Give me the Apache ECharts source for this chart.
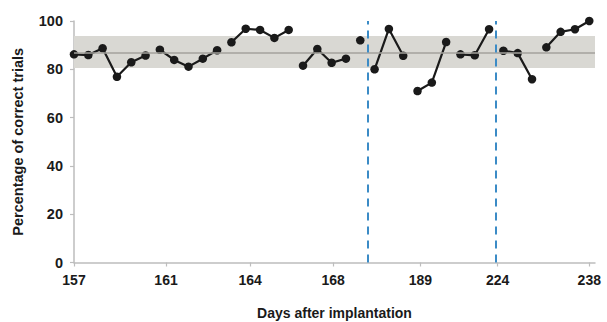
<!DOCTYPE html>
<html>
<head>
<meta charset="utf-8">
<script src="https://cdn.jsdelivr.net/npm/echarts@6/dist/echarts.min.js"></script>
<style>
  html, body { margin: 0; padding: 0; background: #fff; }
  #chart { width: 607px; height: 322px; }
</style>
</head>
<body>
<div id="chart"></div>
<script>
// percentage of correct trials, one value per session (in order)
var correct = [
  86.2, 85.9, 88.7, 76.9, 82.9, 85.7,
  88.1, 83.9, 81.1, 84.4, 87.9,
  91.2, 96.8, 96.3, 93.0, 96.3,
  81.5, 88.4, 82.7, 84.4,
  92.0,
  80.0, 96.7, 85.6,
  71.0, 74.5, 91.3,
  86.2, 85.8, 96.6,
  87.7, 86.7, 75.9,
  89.1, 95.5, 96.6, 100
];
// first session index of each connected run
var runStarts = [0, 6, 11, 16, 20, 21, 24, 27, 30, 33];
// day labels shown under the axis and the session position they sit at
var dayLabels = ['157', '161', '164', '168', '189', '224', '238'];
var dayPos = [0, 6.43, 12.3, 18.1, 24.2, 29.6, 36];
// reference band (mean and range) and phase boundaries
var bandLow = 80.5, bandHigh = 93.8, bandMean = 86.9;
var phaseBreaks = [20.5, 29.5];

(function() {
  var ink = '#1a1a1a';
  var axisGrey = '#bdbdbd';
  var font = 'Liberation Sans, Arial, sans-serif';

  var chart = echarts.init(document.getElementById('chart'), null, { renderer: 'svg' });

  var series = [];
  // background band + mean line + phase lines
  series.push({
    type: 'line',
    data: [],
    silent: true,
    z: 1,
    markArea: {
      silent: true,
      itemStyle: { color: '#d9d8d3' },
      data: [[{ yAxis: bandLow }, { yAxis: bandHigh }]]
    },
    markLine: {
      silent: true,
      symbol: 'none',
      label: { show: false },
      data: [
        { yAxis: bandMean, lineStyle: { color: '#a3a29d', width: 1.5, type: 'solid' } }
      ].concat(phaseBreaks.map(function(x) {
        return { xAxis: x, lineStyle: { color: '#3b8bc6', width: 2, type: [8, 6] } };
      }))
    }
  });

  runStarts.forEach(function(start, k) {
    var end = k + 1 < runStarts.length ? runStarts[k + 1] : correct.length;
    var pts = [];
    for (var i = start; i < end; i++) pts.push([i, correct[i]]);
    series.push({
      type: 'line',
      data: pts,
      z: 3,
      symbol: 'circle',
      symbolSize: 8.5,
      showSymbol: true,
      lineStyle: { color: ink, width: 2.2 },
      itemStyle: { color: ink },
      silent: true
    });
  });

  chart.setOption({
    animation: false,
    grid: { left: 74, right: 12, top: 21, bottom: 59.5, outerBoundsMode: 'none', containLabel: false },
    xAxis: {
      type: 'value',
      min: 0,
      max: 36.4,
      name: 'Days after implantation',
      nameLocation: 'middle',
      nameGap: 43,
      nameTextStyle: { color: ink, fontSize: 14, fontWeight: 'bold', fontFamily: font },
      axisLine: { show: true, onZero: false, lineStyle: { color: axisGrey, width: 1.5 } },
      axisTick: { show: true, length: 4, customValues: dayPos, lineStyle: { color: axisGrey, width: 1.2 } },
      axisLabel: {
        customValues: dayPos,
        color: ink, fontSize: 14, fontWeight: 'bold', fontFamily: font, margin: 10,
        formatter: function(v) {
          var i = dayPos.indexOf(v);
          return i >= 0 ? dayLabels[i] : '';
        }
      },
      splitLine: { show: false }
    },
    yAxis: {
      type: 'value',
      min: 0,
      max: 100,
      interval: 20,
      name: 'Percentage of correct trials',
      nameLocation: 'middle',
      nameGap: 49,
      nameRotate: 90,
      nameTextStyle: { color: ink, fontSize: 14.5, fontWeight: 'bold', fontFamily: font },
      axisLine: { show: true, lineStyle: { color: axisGrey, width: 1.5 } },
      axisTick: { show: true, length: 4, lineStyle: { color: axisGrey, width: 1.2 } },
      axisLabel: { color: ink, fontSize: 14.5, fontWeight: 'bold', fontFamily: font, margin: 11 },
      splitLine: { show: false }
    },
    series: series
  });
  window.addEventListener('resize', function() { chart.resize(); });
})();
</script>
</body>
</html>
